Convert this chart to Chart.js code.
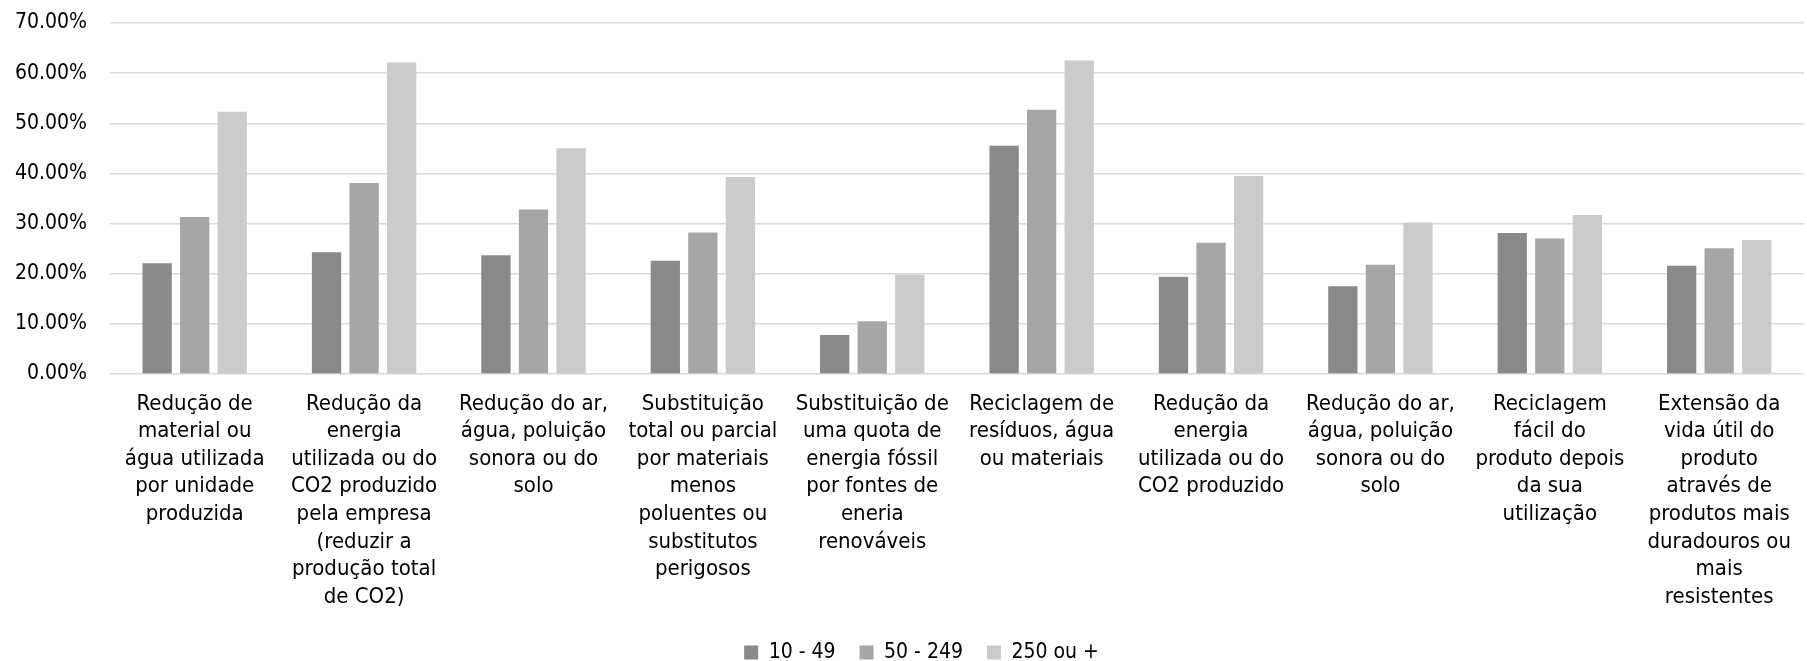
<!DOCTYPE html>
<html>
<head>
<meta charset="utf-8">
<script src="https://cdn.jsdelivr.net/npm/chart.js@4"></script>
<style>
  body { margin: 0; background: #fff; }
  #wrap { width: 1807px; height: 661px; }
</style>
</head>
<body>
<div id="wrap"><canvas id="chart"></canvas></div>
<script>
// Categories (already wrapped the way the reference wraps them)
const categories = [
  ["Redução de", "material ou", "água utilizada", "por unidade", "produzida"],
  ["Redução da", "energia", "utilizada ou do", "CO2 produzido", "pela empresa", "(reduzir a", "produção total", "de CO2)"],
  ["Redução do ar,", "água, poluição", "sonora ou do", "solo"],
  ["Substituição", "total ou parcial", "por materiais", "menos", "poluentes ou", "substitutos", "perigosos"],
  ["Substituição de", "uma quota de", "energia fóssil", "por fontes de", "eneria", "renováveis"],
  ["Reciclagem de", "resíduos, água", "ou materiais"],
  ["Redução da", "energia", "utilizada ou do", "CO2 produzido"],
  ["Redução do ar,", "água, poluição", "sonora ou do", "solo"],
  ["Reciclagem", "fácil do", "produto depois", "da sua", "utilização"],
  ["Extensão da", "vida útil do", "produto", "através de", "produtos mais", "duradouros ou", "mais", "resistentes"]
];

// Series values (%)
const seriesNames = ["10 - 49", "50 - 249", "250 ou +"];
const small = [22.1, 24.3, 23.7, 22.6, 7.8, 45.5, 19.4, 17.5, 28.1, 21.6];
const medium = [31.3, 38.1, 32.8, 28.2, 10.5, 52.7, 26.2, 21.8, 27.0, 25.1];
const large = [52.3, 62.1, 45.0, 39.3, 19.8, 62.5, 39.5, 30.2, 31.7, 26.7];

// y axis ticks
const yMin = 0;
const yMax = 70;
const yStep = 10;

const FONT = "'DejaVu Sans Condensed', 'DejaVu Sans', sans-serif";
const colors = ["#898989", "#a6a6a6", "#cbcbcb"];

// legend: fixed strip height at the bottom, nudged a bit to the right
const legendTweak = {
  id: "legendTweak",
  beforeUpdate(chart) {
    const lg = chart.legend;
    if (lg && !lg._fixed) {
      const fit = lg.fit;
      const draw = lg.draw;
      lg.fit = function () {
        fit.call(this);
        this.height = 43;
      };
      lg.draw = function () {
        this.ctx.save();
        this.ctx.translate(18, 0);
        draw.call(this);
        this.ctx.restore();
      };
      lg._fixed = true;
    }
  },
};

const ctx = document.getElementById("chart");

new Chart(ctx, {
  type: "bar",
  data: {
    labels: categories,
    datasets: [small, medium, large].map((data, i) => ({
      label: seriesNames[i],
      data,
      backgroundColor: colors[i],
      borderWidth: 0,
      categoryPercentage: 0.665,
      barPercentage: 0.78,
    })),
  },
  plugins: [legendTweak],
  options: {
    responsive: true,
    maintainAspectRatio: false,
    animation: false,
    layout: { padding: { top: 0, left: 0, right: 0, bottom: 0 } },
    plugins: {
      tooltip: { enabled: false },
      legend: {
        position: "bottom",
        labels: {
          font: { family: FONT, size: 21 },
          color: "#000",
          boxWidth: 14,
          boxHeight: 14,
          padding: 24,
        },
      },
    },
    scales: {
      x: {
        grid: { display: false, drawTicks: false },
        border: { display: false },
        ticks: {
          autoSkip: false,
          maxRotation: 0,
          padding: 16,
          color: "#000",
          font: { family: FONT, size: 22, lineHeight: 1.255 },
        },
        afterFit: (scale) => { scale.height = 244; },
      },
      y: {
        min: yMin,
        max: yMax,
        grid: { color: "#d9d9d9", lineWidth: 1.5, drawTicks: false },
        border: { display: false },
        ticks: {
          stepSize: yStep,
          padding: 23,
          color: "#000",
          font: { family: FONT, size: 21 },
          callback: (v) => v.toFixed(2) + "%",
        },
        afterFit: (scale) => {
          scale.width = 110;
          scale.paddingTop = 23;
          scale.paddingBottom = 12;
        },
      },
    },
  },
});
</script>
</body>
</html>
